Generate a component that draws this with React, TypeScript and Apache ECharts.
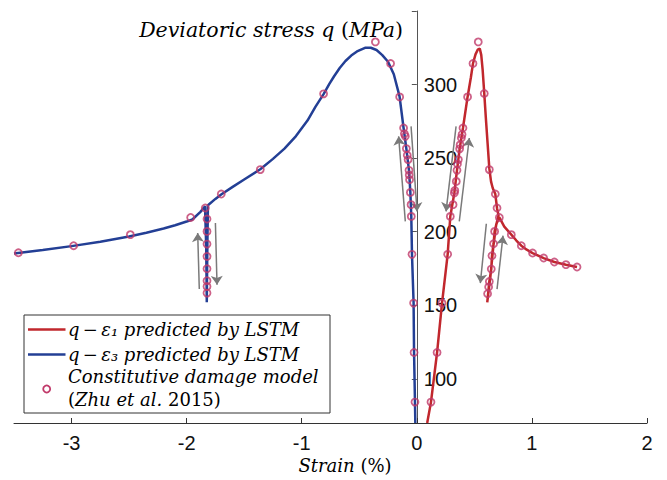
import React, { useEffect, useRef } from "react";
import * as echarts from "echarts";

// ---- data ----
const xTicks = [-3, -2, -1, 0, 1, 2];
const yTicks = [100, 150, 200, 250, 300];

// LSTM prediction q - eps1 (strain %, q MPa)
const redLine: number[][] = [
  [0.09, 70], [0.123, 84.2], [0.176, 117.9], [0.219, 151.5], [0.268, 184.6],
  [0.291, 210.4], [0.326, 226.3], [0.349, 241.7], [0.372, 256.3], [0.401, 270.5],
  [0.441, 291.6], [0.47, 305], [0.488, 314.3], [0.51, 320.5], [0.53, 323.8],
  [0.547, 324.5], [0.56, 320], [0.572, 310], [0.586, 294], [0.6, 277],
  [0.615, 260], [0.63, 243], [0.645, 234], [0.66, 229.5], [0.682, 225.6],
  [0.697, 216], [0.71, 211], [0.676, 200.2], [0.667, 191.8], [0.653, 183.7],
  [0.647, 174.6], [0.63, 166.2], [0.612, 152], [0.64, 170], [0.665, 190],
  [0.69, 205], [0.717, 209.7], [0.76, 203.5], [0.821, 198], [0.865, 194],
  [0.908, 190.5], [0.955, 187.8], [1.006, 185.5], [1.102, 182.1], [1.195, 179.4],
  [1.296, 177.6], [1.392, 176],
];

// LSTM prediction q - eps3
const blueLine: number[][] = [
  [-3.5, 185.2], [-3.25, 187.5], [-3.0, 190.2], [-2.75, 193.2], [-2.5, 196.8],
  [-2.35, 199.3], [-2.2, 202.2], [-2.1, 204.4], [-2.0, 206.9],
  [-1.95, 208.3], [-1.88, 213.5], [-1.84, 217.2], [-1.83, 190], [-1.825, 152],
  [-1.82, 190], [-1.815, 218], [-1.75, 222.3], [-1.7, 225.3], [-1.6, 230.5],
  [-1.5, 235.5], [-1.36, 242.5], [-1.25, 249.5], [-1.15, 256.5], [-1.05, 265],
  [-0.95, 275.5], [-0.88, 285], [-0.81, 293.5], [-0.76, 300.5], [-0.72, 305.5],
  [-0.67, 311.3], [-0.62, 316], [-0.57, 319.7], [-0.52, 322.5], [-0.45, 325],
  [-0.4, 325], [-0.35, 323.5], [-0.3, 320], [-0.25, 315.5], [-0.2, 307],
  [-0.15, 292], [-0.115, 270.5], [-0.091, 256.5], [-0.068, 241.7], [-0.056, 226.7],
  [-0.048, 210.4], [-0.042, 184.6], [-0.028, 151.5], [-0.024, 118], [-0.016, 84.2],
  [-0.013, 70],
];

// Constitutive damage model (Zhu et al. 2015)
const blueMarkers: number[][] = [
  [-3.462, 185.7], [-2.982, 190.5], [-2.489, 198], [-1.965, 209.7], [-1.838, 216.1],
  [-1.823, 208.6], [-1.823, 200.2], [-1.823, 191.6], [-1.823, 183.2], [-1.823, 174.8],
  [-1.823, 166.7], [-1.823, 162.8], [-1.823, 158.3],
  [-1.699, 225.6], [-1.36, 242.2], [-0.81, 293.7], [-0.36, 329], [-0.228, 314.3],
  [-0.149, 291.6], [-0.115, 270.5], [-0.108, 266.5], [-0.1, 264.8], [-0.091, 256.5],
  [-0.083, 252], [-0.076, 249], [-0.068, 241.7], [-0.066, 238.5], [-0.063, 235.4],
  [-0.056, 226.7], [-0.05, 218.4], [-0.048, 210.4], [-0.042, 184.6], [-0.028, 151.5],
  [-0.024, 117.9], [-0.016, 84.2],
];
const redMarkers: number[][] = [
  [0.123, 84.2], [0.176, 117.9], [0.219, 151.5], [0.268, 184.6], [0.291, 210.4],
  [0.315, 218.4], [0.326, 226.3], [0.33, 228], [0.343, 234.2], [0.349, 241.7],
  [0.353, 246], [0.361, 249], [0.372, 256.3], [0.376, 259], [0.387, 263.7],
  [0.393, 266], [0.401, 270.5], [0.441, 291.6], [0.488, 314.3], [0.534, 329],
  [0.586, 293.9], [0.63, 242.2], [0.682, 225.6], [0.697, 216.1], [0.717, 209.7],
  [0.676, 200.2], [0.667, 191.8], [0.653, 183.7], [0.647, 174.6], [0.63, 166.2],
  [0.624, 162.4], [0.615, 157.8], [0.821, 198], [0.908, 190.5], [1.006, 185.5],
  [1.102, 182.1], [1.195, 179.4], [1.296, 177.6], [1.392, 176],
];

// loading / unloading arrows: [x1, y1, x2(tip), y2(tip)]
const arrows: number[][] = [
  [-1.89, 161.0, -1.904, 199.1],
  [-1.75, 205.9, -1.736, 163.9],
  [-0.1, 207.0, -0.158, 264.8],
  [-0.05, 271.6, 0.002, 213.8],
  [0.341, 271.6, 0.254, 213.8],
  [0.369, 207.0, 0.456, 263.7],
  [0.604, 205.4, 0.552, 165.1],
  [0.697, 161.0, 0.749, 197.3],
];

const RED = "#C1272D";
const BLUE = "#233F95";
const MARK = "#C13A6A";
const SERIF = "DejaVu Serif";
const SANS = "Liberation Sans";

const X_MIN = -3.5;
const X_MAX = 2;
const GRID_LEFT = 14;
const GRID_RIGHT = 20;
const WIDTH = 667;

export default function App() {
  const ref = useRef<HTMLDivElement>(null);
  useEffect(() => {
    document.body.style.margin = "0";
    if (!ref.current) return;
    const chart = echarts.init(ref.current, null, { renderer: "svg" });
    const it = { fontFamily: SERIF, fontStyle: "italic", fontSize: 18, color: "#111" };
    const rm = { fontFamily: SERIF, fontStyle: "normal", fontSize: 18, color: "#111" };
    // place the y axis on x = 0
    const plotW = WIDTH - GRID_LEFT - GRID_RIGHT;
    const zeroOffset = ((0 - X_MIN) / (X_MAX - X_MIN)) * plotW;
    chart.setOption({
      animation: false,
      backgroundColor: "#fff",
      grid: { left: GRID_LEFT, right: GRID_RIGHT, top: 11, bottom: 57 },
      xAxis: {
        type: "value",
        min: X_MIN,
        max: X_MAX,
        axisLine: { onZero: false, lineStyle: { color: "#333", width: 1 } },
        axisTick: { customValues: xTicks, inside: true, length: 5, lineStyle: { color: "#333" } },
        axisLabel: { customValues: xTicks, fontSize: 20, fontFamily: SANS, color: "#111", margin: 10 },
        splitLine: { show: false },
      },
      yAxis: {
        type: "value",
        min: 70,
        max: 350,
        position: "left",
        offset: -zeroOffset,
        axisLine: { show: true, onZero: false, lineStyle: { color: "#555", width: 1 } },
        axisTick: { customValues: [...yTicks, 350], inside: false, length: 5, lineStyle: { color: "#555" } },
        axisLabel: { customValues: yTicks, inside: true, margin: 7, fontSize: 20, fontFamily: SANS, color: "#111" },
        splitLine: { show: false },
      },
      series: [
        {
          name: "q-eps1", type: "line", data: redLine, showSymbol: false, symbol: "none",
          lineStyle: { color: RED, width: 2.5 }, z: 3,
        },
        {
          name: "q-eps3", type: "line", data: blueLine, showSymbol: false, symbol: "none",
          lineStyle: { color: BLUE, width: 2.5 }, z: 3,
        },
        {
          name: "arrows", type: "lines", coordinateSystem: "cartesian2d",
          data: arrows.map((a) => ({ coords: [[a[0], a[1]], [a[2], a[3]]] })),
          symbol: ["none", "arrow"], symbolSize: 9,
          lineStyle: { color: "#7a7a7a", width: 1.5, opacity: 1 }, z: 2, silent: true,
        },
        {
          name: "Constitutive damage model", type: "scatter",
          data: [...blueMarkers, ...redMarkers], symbol: "circle", symbolSize: 7,
          itemStyle: { color: "rgba(255,255,255,0)", borderColor: MARK, borderWidth: 1.8 }, z: 4,
        },
      ],
      graphic: [
        {
          type: "text", x: 403, y: 30, z: 10,
          style: { text: "{i|Deviatoric stress q }{r|(}{i|MPa}{r|)}", align: "right", verticalAlign: "middle",
            rich: { i: { ...it, fontSize: 20.5 }, r: { ...rm, fontSize: 20.5 } } },
        },
        {
          type: "text", x: 345, y: 465, z: 10,
          style: { text: "{i|Strain }{r|(%)}", align: "center", verticalAlign: "middle",
            rich: { i: it, r: rm } },
        },
        {
          type: "group", z: 100, children: [
            { type: "rect", shape: { x: 24, y: 315, width: 306, height: 98 },
              style: { fill: "#fff", stroke: "#333", lineWidth: 1 }, z: 100 },
            { type: "line", shape: { x1: 28, y1: 329.5, x2: 65.5, y2: 329.5 },
              style: { stroke: RED, lineWidth: 2.5 }, z: 101 },
            { type: "line", shape: { x1: 28, y1: 354.5, x2: 65.5, y2: 354.5 },
              style: { stroke: BLUE, lineWidth: 2.5 }, z: 101 },
            { type: "circle", shape: { cx: 46.7, cy: 389, r: 3.5 },
              style: { fill: "#fff", stroke: MARK, lineWidth: 1.8 }, z: 101 },
            { type: "text", x: 68, y: 329, z: 101,
              style: { text: "{i|q} {r|−} {i|ε₁ predicted by LSTM}", verticalAlign: "middle", rich: { i: it, r: rm } } },
            { type: "text", x: 68, y: 354, z: 101,
              style: { text: "{i|q} {r|−} {i|ε₃ predicted by LSTM}", verticalAlign: "middle", rich: { i: it, r: rm } } },
            { type: "text", x: 68, y: 376, z: 101,
              style: { text: "{i|Constitutive damage model}", verticalAlign: "middle", rich: { i: it } } },
            { type: "text", x: 68, y: 399, z: 101,
              style: { text: "{r|(}{i|Zhu et al.}{r| 2015)}", verticalAlign: "middle", rich: { i: it, r: rm } } },
          ],
        },
      ],
    });
    return () => chart.dispose();
  }, []);
  return <div ref={ref} style={{ width: 667, height: 480 }} />;
}
